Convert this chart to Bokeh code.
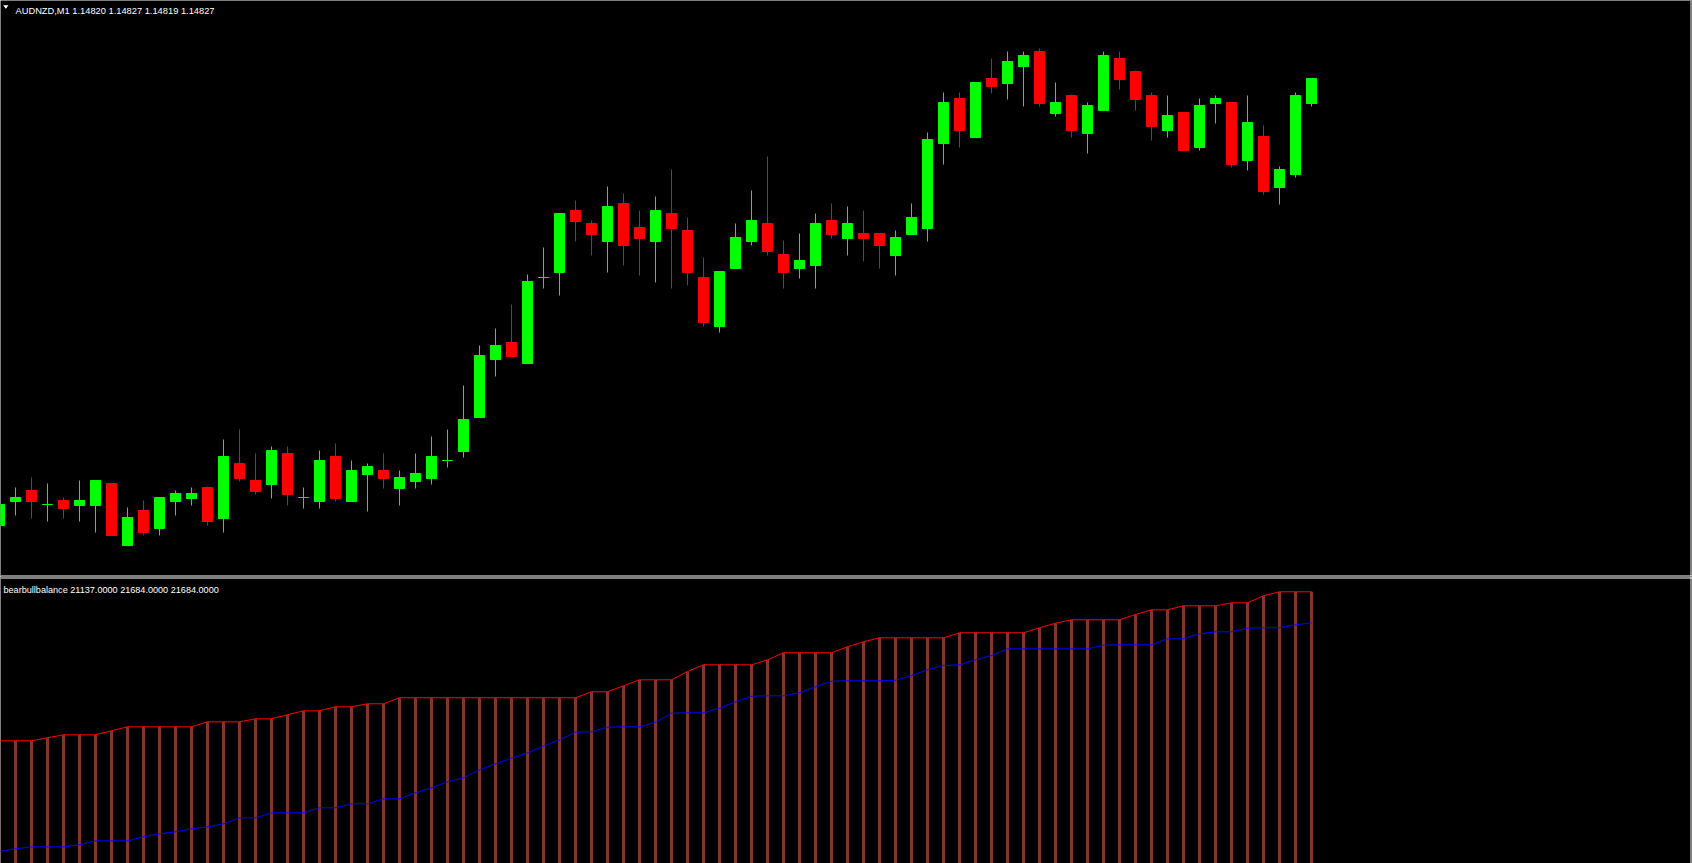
import numpy as np
from bokeh.plotting import figure
from bokeh.models import ColumnDataSource, Range1d, BoxAnnotation, Label, PolyAnnotation
from bokeh.layouts import column
from bokeh.embed import file_html
from bokeh.resources import INLINE

# ---------------- data ----------------
symbol = "AUDNZD,M1"
header_ohlc = [1.14820, 1.14827, 1.14819, 1.14827]
indicator_name = "bearbullbalance"
indicator_readout = [21137.0, 21684.0, 21684.0]

opens = [1.14380, 1.14404, 1.14415, 1.14401, 1.14405, 1.14400, 1.14400, 1.14422, 1.14360, 1.14395,
         1.14377, 1.14404, 1.14407, 1.14418, 1.14387, 1.14442, 1.14425, 1.14421, 1.14452, 1.14408,
         1.14404, 1.14449, 1.14404, 1.14431, 1.14435, 1.14417, 1.14424, 1.14427, 1.14445, 1.14454,
         1.14488, 1.14546, 1.14563, 1.14542, 1.14628, 1.14633, 1.14695, 1.14682, 1.14664, 1.14702,
         1.14678, 1.14664, 1.14692, 1.14675, 1.14628, 1.14579, 1.14637, 1.14664, 1.14682, 1.14651,
         1.14637, 1.14640, 1.14685, 1.14667, 1.14672, 1.14672, 1.14650, 1.14671, 1.14677, 1.14762,
         1.14807, 1.14768, 1.14827, 1.14822, 1.14839, 1.14854, 1.14792, 1.14810, 1.14772, 1.14795,
         1.14847, 1.14834, 1.14810, 1.14775, 1.14793, 1.14758, 1.14802, 1.14803, 1.14745, 1.14769,
         1.14718, 1.14731, 1.14802]
highs = [1.14401, 1.14418, 1.14428, 1.14422, 1.14408, 1.14425, 1.14425, 1.14422, 1.14398, 1.14405,
         1.14408, 1.14415, 1.14418, 1.14418, 1.14466, 1.14476, 1.14452, 1.14459, 1.14459, 1.14418,
         1.14455, 1.14462, 1.14445, 1.14442, 1.14452, 1.14435, 1.14452, 1.14469, 1.14476, 1.14520,
         1.14560, 1.14577, 1.14601, 1.14631, 1.14658, 1.14692, 1.14705, 1.14685, 1.14719, 1.14712,
         1.14695, 1.14709, 1.14736, 1.14688, 1.14648, 1.14634, 1.14682, 1.14715, 1.14749, 1.14665,
         1.14672, 1.14692, 1.14702, 1.14699, 1.14695, 1.14672, 1.14675, 1.14702, 1.14773, 1.14813,
         1.14813, 1.14823, 1.14847, 1.14854, 1.14854, 1.14857, 1.14823, 1.14810, 1.14803, 1.14854,
         1.14854, 1.14834, 1.14813, 1.14810, 1.14793, 1.14807, 1.14810, 1.14803, 1.14810, 1.14780,
         1.14739, 1.14813, 1.14827]
lows = [1.14380, 1.14390, 1.14387, 1.14384, 1.14387, 1.14384, 1.14373, 1.14370, 1.14360, 1.14370,
        1.14370, 1.14390, 1.14400, 1.14380, 1.14373, 1.14424, 1.14411, 1.14407, 1.14400, 1.14397,
        1.14397, 1.14404, 1.14404, 1.14394, 1.14417, 1.14400, 1.14417, 1.14421, 1.14438, 1.14448,
        1.14488, 1.14529, 1.14549, 1.14542, 1.14617, 1.14610, 1.14664, 1.14650, 1.14633, 1.14640,
        1.14630, 1.14623, 1.14617, 1.14620, 1.14579, 1.14573, 1.14637, 1.14660, 1.14650, 1.14617,
        1.14627, 1.14617, 1.14667, 1.14650, 1.14644, 1.14637, 1.14630, 1.14671, 1.14664, 1.14741,
        1.14758, 1.14768, 1.14812, 1.14806, 1.14799, 1.14799, 1.14789, 1.14768, 1.14752, 1.14795,
        1.14816, 1.14795, 1.14765, 1.14768, 1.14755, 1.14755, 1.14782, 1.14738, 1.14735, 1.14711,
        1.14701, 1.14728, 1.14799]
closes = [1.14401, 1.14408, 1.14404, 1.14401, 1.14397, 1.14405, 1.14425, 1.14370, 1.14388, 1.14373,
          1.14408, 1.14412, 1.14412, 1.14384, 1.14449, 1.14427, 1.14414, 1.14455, 1.14411, 1.14408,
          1.14445, 1.14407, 1.14435, 1.14439, 1.14427, 1.14428, 1.14432, 1.14449, 1.14445, 1.14486,
          1.14550, 1.14560, 1.14549, 1.14624, 1.14628, 1.14692, 1.14684, 1.14671, 1.14699, 1.14660,
          1.14667, 1.14695, 1.14677, 1.14633, 1.14583, 1.14634, 1.14668, 1.14685, 1.14654, 1.14633,
          1.14645, 1.14682, 1.14671, 1.14682, 1.14667, 1.14660, 1.14668, 1.14688, 1.14766, 1.14803,
          1.14775, 1.14823, 1.14819, 1.14844, 1.14850, 1.14802, 1.14803, 1.14775, 1.14800, 1.14850,
          1.14826, 1.14806, 1.14779, 1.14790, 1.14755, 1.14800, 1.14807, 1.14741, 1.14783, 1.14714,
          1.14736, 1.14810, 1.14827]

balance = [19055, 19055, 19055, 19108, 19161, 19161, 19161, 19231, 19302, 19302,
           19302, 19302, 19302, 19390, 19390, 19390, 19443, 19443, 19514, 19584,
           19584, 19655, 19655, 19708, 19708, 19814, 19814, 19814, 19814, 19814,
           19814, 19814, 19814, 19814, 19814, 19814, 19814, 19920, 19920, 20025,
           20131, 20131, 20131, 20278, 20396, 20396, 20396, 20396, 20484, 20608,
           20608, 20608, 20608, 20714, 20802, 20872, 20872, 20872, 20872, 20872,
           20961, 20961, 20961, 20961, 20961, 21049, 21130, 21190, 21190, 21190,
           21190, 21283, 21366, 21366, 21437, 21437, 21437, 21490, 21490, 21613,
           21684, 21684, 21684]
signal = [17102, 17149, 17184, 17184, 17184, 17220, 17290, 17290, 17290, 17361,
          17414, 17449, 17502, 17537, 17590, 17696, 17696, 17784, 17784, 17784,
          17873, 17873, 17943, 17943, 18031, 18031, 18137, 18226, 18331, 18402,
          18543, 18649, 18748, 18843, 18960, 19072, 19207, 19214, 19295, 19302,
          19302, 19383, 19542, 19549, 19549, 19630, 19743, 19842, 19849, 19849,
          19902, 20008, 20106, 20114, 20114, 20114, 20124, 20207, 20308, 20384,
          20396, 20484, 20560, 20678, 20678, 20678, 20678, 20678, 20678, 20742,
          20749, 20749, 20749, 20855, 20855, 20943, 20978, 20978, 21042, 21049,
          21049, 21102, 21137]

# ---------------- layout ----------------
W = 1692
H_MAIN, H_IND = 576, 287
X0, X1 = 0.0625, 105.8125
PY0, PY1 = 1.14329, 1.14905
IY0, IY1 = 16890.0, 21954.0
dx = (X1 - X0) / W
dym = (PY1 - PY0) / H_MAIN
dyi = (IY1 - IY0) / H_IND

BG = "#000000"
BULL = "#00FF00"
BEAR = "#FF0000"
HIST = "#85332F"
WHITE = "#FFFFFF"


def make(h, y0, y1):
    p = figure(width=W, height=h, x_range=Range1d(X0, X1), y_range=Range1d(y0, y1),
               x_axis_type=None, y_axis_type=None, toolbar_location=None,
               output_backend="svg", min_border=0,
               background_fill_color=BG, border_fill_color=BG, outline_line_color=None)
    p.grid.visible = False
    return p


def band(**kw):
    return BoxAnnotation(fill_color=WHITE, fill_alpha=1.0, line_color=None, **kw)


bar = np.arange(len(opens))
o = np.array(opens)
c = np.array(closes)
colors = np.where(c >= o, BULL, BEAR)
src = ColumnDataSource(dict(x=bar, h=highs, l=lows, top=np.maximum(o, c),
                            bot=np.minimum(o, c), color=colors))

main = make(H_MAIN, PY0, PY1)
main.segment(x0="x", y0="h", x1="x", y1="l", line_color="color", line_width=1, source=src)
main.vbar(x="x", top="top", bottom="bot", width=0.625, fill_color="color",
          line_color="color", line_width=1, source=src)

header = symbol + "  " + " ".join(f"{v:.5f}" for v in header_ohlc)
main.add_layout(Label(x=X0, y=PY1, x_offset=15, y_offset=-10.7, text=header,
                      text_font="Liberation Sans", text_font_size="9.3px",
                      text_color=WHITE, text_baseline="alphabetic"))
main.add_layout(PolyAnnotation(xs=[X0 + 2.7 * dx, X0 + 8.0 * dx, X0 + 5.35 * dx],
                               ys=[PY1 - 4.8 * dym, PY1 - 4.8 * dym, PY1 - 8.2 * dym],
                               fill_color=WHITE, fill_alpha=1.0, line_color=None))
main.add_layout(band(bottom=PY0, top=PY0 + dym))
main.add_layout(band(left=X1 - 2 * dx, right=X1 - dx))

ind = make(H_IND, IY0, IY1)
ind.vbar(x=bar, top=balance, bottom=0, width=0.1875, fill_color=HIST, line_color=None)
ind.line(bar, balance, line_color="#FF0000", line_width=1)
ind.line(bar, signal, line_color="#0000FF", line_width=1)

ind_text = indicator_name + " " + " ".join(f"{v:.4f}" for v in indicator_readout)
ind.add_layout(Label(x=X0, y=IY1, x_offset=3, y_offset=-13, text=ind_text,
                     text_font="Liberation Sans", text_font_size="9.1px",
                     text_color=WHITE, text_baseline="alphabetic"))
ind.add_layout(band(bottom=IY1 - 2 * dyi, top=IY1 - dyi))
ind.add_layout(band(left=X1 - 2 * dx, right=X1 - dx))

layout = column(main, ind, spacing=0)
open("out.html", "w").write(file_html(layout, INLINE))
